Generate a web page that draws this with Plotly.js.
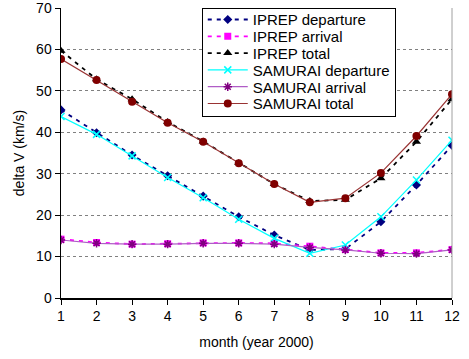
<!DOCTYPE html>
<html><head><meta charset="utf-8">
<script src="https://cdn.plot.ly/plotly-3.0.1.min.js"></script>
<style>html,body{margin:0;padding:0;background:#fff}</style>
</head><body><div id="chart" style="width:469px;height:359px"></div>
<script>
var months = [1,2,3,4,5,6,7,8,9,10,11,12];
var iprepDeparture = [45.4,39.9,34.5,29.5,24.6,19.6,15.2,11.6,11.8,18.4,27.3,36.8];
var iprepArrival   = [14.2,13.4,13.0,13.1,13.3,13.3,13.2,12.5,11.7,10.9,10.9,11.7];
var iprepTotal     = [59.7,52.8,48.0,42.5,37.8,32.6,27.5,23.4,23.7,28.9,37.7,48.0];
var samDeparture   = [43.8,39.5,34.3,29.1,24.2,19.0,14.4,10.8,12.8,19.6,28.5,38.1];
var samArrival     = [14.0,13.2,13.0,13.0,13.2,13.2,13.0,12.2,11.6,10.8,10.7,11.6];
var samTotal       = [57.7,52.6,47.4,42.3,37.7,32.5,27.5,23.1,24.1,30.2,39.1,49.2];
var xTicks = ['1','2','3','4','5','6','7','8','9','10','11','12'];

function tr(name, y, color, dash, sym, msize, mcolor, lw){
  var outline = (sym.indexOf('x-thin')>=0||sym.indexOf('asterisk')>=0);
  return {x: months, y: y, name: name, type:'scatter', mode:'lines+markers',
    line:{color:color, dash:dash, width:lw||1.5},
    marker:{symbol:sym, size:msize, color:mcolor||color, line:{color:mcolor||color, width: outline?1.5:0}}};
}
var data = [
  tr('IPREP departure', iprepDeparture, '#000080', '4px,5px', 'diamond', 7, '#000080', 1.8),
  tr('IPREP arrival', iprepArrival, '#ff00ff', '4px,5px', 'square', 7, '#ff00ff', 1.8),
  tr('IPREP total', iprepTotal, '#000000', '4px,5px', 'triangle-up', 8, '#000000', 1.8),
  tr('SAMURAI departure', samDeparture, '#00ffff', 'solid', 'x-thin', 7, '#00ffff', 1.2),
  tr('SAMURAI arrival', samArrival, '#b05cc6', 'solid', 'asterisk', 7, '#800080', 1.2),
  tr('SAMURAI total', samTotal, '#993333', 'solid', 'circle', 8, '#800000', 1.2)
];
var layout = {
  width:469, height:359,
  margin:{l:61, r:17, t:8, b:61},
  paper_bgcolor:'#fff', plot_bgcolor:'#fff',
  font:{family:'Liberation Sans, Arial, sans-serif', color:'#000'},
  showlegend:true,
  legend:{x:0.36, y:1.0, xanchor:'left', yanchor:'top', bgcolor:'#fff', bordercolor:'#000', borderwidth:1,
    font:{size:15}, tracegroupgap:0, itemwidth:40},
  xaxis:{range:[1,12], tickvals:months, ticktext:xTicks, showgrid:false, zeroline:false,
    showline:true, linecolor:'#000', linewidth:1.5, ticks:'outside', ticklen:5, tickcolor:'#000',
    tickfont:{size:14}, ticklabeloverflow:'allow',
    title:{text:'month (year 2000)', font:{size:14}, standoff:14}},
  yaxis:{range:[0,70], dtick:10, showgrid:true, gridcolor:'#808080', griddash:'dot', gridwidth:1,
    zeroline:false, showline:true, linecolor:'#000', linewidth:1.5, ticks:'outside', ticklen:5, tickcolor:'#000',
    tickfont:{size:14}, ticklabeloverflow:'allow', title:{text:'delta V (km/s)', font:{size:14}, standoff:8}},
  shapes:[{type:'line', xref:'paper', yref:'paper', x0:1, x1:1, y0:0, y1:1, line:{color:'#a0a0a0', width:1}}]
};
Plotly.newPlot('chart', data, layout, {displayModeBar:false, staticPlot:true}).then(function(gd){
  // tighten legend row spacing to match the reference
  var items = gd.querySelectorAll('.legend .traces');
  items.forEach(function(el, i){
    var t = el.getAttribute('transform') || '';
    var m = /translate\(\s*([-\d.e]+)[\s,]+([-\d.e]+)\s*\)/.exec(t);
    var x = m ? m[1] : 0;
    el.setAttribute('transform', 'translate(' + x + ',' + (11.5 + i * 16.8) + ')');
  });
  var bg = gd.querySelector('.legend .bg');
  if (bg) bg.setAttribute('height', 107.5);
});
</script></body></html>
